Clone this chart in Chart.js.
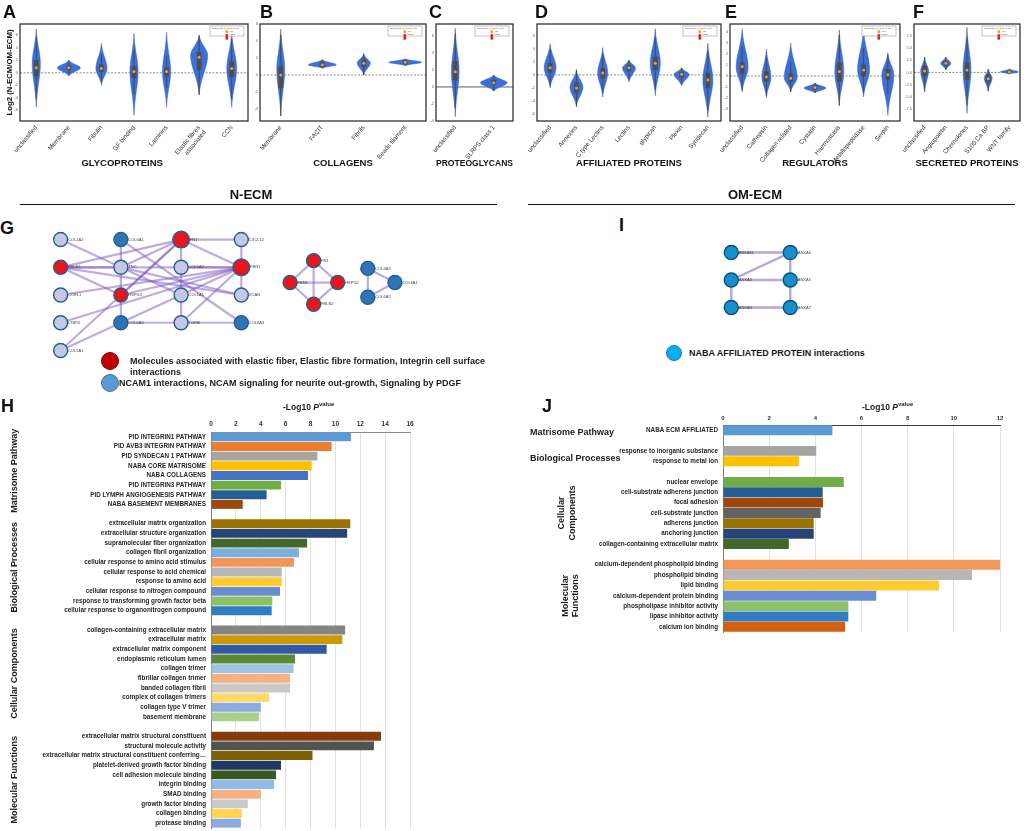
<!DOCTYPE html>
<html>
<head>
<meta charset="utf-8">
<title>N-ECM / OM-ECM matrisome figure</title>
<script src="https://cdn.jsdelivr.net/npm/chart.js@4.4.1/dist/chart.umd.min.js"></script>
<style>
  body { margin: 0; background: #fff; }
  #fig { position: relative; width: 1024px; height: 831px; overflow: hidden; background: #fff;
         font-family: "Liberation Sans", Arial, sans-serif; color: #111; }
  #fig canvas { position: absolute; }
  .lbl { position: absolute; white-space: nowrap; line-height: 1; }
  .letter { font-size: 18px; font-weight: bold; }
  .sect { font-size: 13px; font-weight: bold; transform: translateX(-50%); }
  .rule { position: absolute; height: 1.5px; background: #111; }
  .dot { position: absolute; border-radius: 50%; box-sizing: border-box; }
  .leg { position: absolute; font-size: 9px; font-weight: bold; line-height: 11px; color: #1a1a1a; white-space: nowrap; }
  .axt { position: absolute; font-size: 8.5px; font-weight: bold; white-space: nowrap; line-height: 1; color: #222; }
  .axt sup { font-size: 6px; vertical-align: 4px; line-height: 0; }
</style>
</head>
<body>
<div id="fig">
  <canvas id="glyco" width="252" height="176" style="left:0;top:0"></canvas>
  <canvas id="coll" width="184" height="176" style="left:246px;top:0"></canvas>
  <canvas id="proteo" width="93" height="176" style="left:424px;top:0"></canvas>
  <canvas id="affil" width="201" height="176" style="left:524px;top:0"></canvas>
  <canvas id="regul" width="187" height="176" style="left:717px;top:0"></canvas>
  <canvas id="secr" width="126" height="176" style="left:898px;top:0"></canvas>
  <canvas id="netG" width="400" height="155" style="left:30px;top:215px"></canvas>
  <canvas id="netI" width="140" height="100" style="left:700px;top:230px"></canvas>
  <canvas id="termsH" width="420" height="436" style="left:0;top:395px"></canvas>
  <canvas id="termsJ" width="504" height="240" style="left:520px;top:395px"></canvas>

  <div class="lbl letter" style="left:3px;top:2.7px">A</div>
  <div class="lbl letter" style="left:260px;top:2.7px">B</div>
  <div class="lbl letter" style="left:429px;top:2.7px">C</div>
  <div class="lbl letter" style="left:535px;top:2.7px">D</div>
  <div class="lbl letter" style="left:725px;top:2.7px">E</div>
  <div class="lbl letter" style="left:913px;top:2.7px">F</div>
  <div class="lbl letter" style="left:0;top:218.7px">G</div>
  <div class="lbl letter" style="left:1px;top:397.2px">H</div>
  <div class="lbl letter" style="left:619px;top:216.2px">I</div>
  <div class="lbl letter" style="left:542px;top:396.7px">J</div>

  <div class="lbl sect" style="left:251px;top:187.6px">N-ECM</div>
  <div class="lbl sect" style="left:755px;top:187.6px">OM-ECM</div>
  <div class="rule" style="left:20px;top:203.5px;width:477px"></div>
  <div class="rule" style="left:528px;top:203.5px;width:487px"></div>

  <div class="dot" style="left:101px;top:352px;width:18px;height:18px;background:#c00000;border:1px solid #8b0000"></div>
  <div class="leg" style="left:130px;top:355.5px">Molecules associated with elastic fiber, Elastic fibre formation, Integrin cell surface<br>interactions</div>
  <div class="dot" style="left:101px;top:374px;width:18px;height:18px;background:#5b9bd5;border:1px solid #41719c"></div>
  <div class="leg" style="left:119px;top:377.5px">NCAM1 interactions, NCAM signaling for neurite out-growth, Signaling by PDGF</div>

  <div class="dot" style="left:666px;top:345px;width:16px;height:16px;background:#00b0f0;border:1px solid #2f6f9f"></div>
  <div class="leg" style="left:689px;top:347.5px">NABA AFFILIATED PROTEIN interactions</div>

  <div class="axt" style="left:283px;top:402.8px">-Log10 <i>P</i><sup>value</sup></div>
  <div class="axt" style="left:862px;top:403px">-Log10 <i>P</i><sup>value</sup></div>
</div>

<script>
Chart.defaults.font.family = '"Liberation Sans", Arial, Helvetica, sans-serif';
Chart.defaults.color = '#333';

// ---- A-F: violin summaries, one row per class:
// [min, q1, median, q3, max, density peak, peak width (share of slot)]
const glycoCats = ['unclassified', 'Membrane', 'Fibulin', 'GF binding', 'Laminins', ['Elastic fibres', 'associated'], 'CCN'];
const glycoStats = [
  [-5.5, -0.5, 0.8, 2.0, 7.0, 1.5, 0.25],
  [-0.5, 0.5, 0.8, 1.1, 2.0, 0.8, 0.70],
  [-2.0, 0.2, 0.7, 1.3, 4.7, 0.7, 0.34],
  [-6.8, -0.8, 0.2, 1.0, 6.3, 0.2, 0.25],
  [-5.5, -0.5, 0.2, 0.8, 6.5, 0.2, 0.25],
  [-3.5, 0.5, 2.5, 3.3, 6.0, 2.8, 0.52],
  [-5.5, -0.6, 0.7, 1.8, 6.5, 0.7, 0.30]
];

const collCats = ['Membrane', 'FACIT', 'Fibrils', 'Beads filament'];
const collStats = [
  [-4.8, -1.5, 0.0, 1.0, 5.4, 0.6, 0.19],
  [0.8, 1.0, 1.2, 1.5, 1.8, 1.2, 0.67],
  [0.0, 1.0, 1.4, 1.8, 2.5, 1.4, 0.31],
  [1.1, 1.3, 1.5, 1.7, 1.9, 1.5, 0.79]
];

const proteoCats = ['unclassified', 'SLRPS class 1'];
const proteoStats = [
  [-3.5, 0.8, 1.8, 3.0, 6.9, 1.8, 0.20],
  [-0.5, 0.3, 0.5, 0.8, 1.4, 0.5, 0.69]
];

const affilCats = ['unclassified', 'Annexins', 'C type Lectins', 'Lectins', 'glypican', 'Plexin', 'Syndecan'];
const affilStats = [
  [-2.0, 0.4, 1.1, 1.8, 4.8, 1.1, 0.45],
  [-4.9, -2.8, -2.0, -1.2, 0.8, -1.9, 0.49],
  [-3.4, -0.5, 0.3, 1.0, 4.2, 0.3, 0.38],
  [-1.1, 0.6, 1.1, 1.5, 2.3, 1.1, 0.49],
  [-3.2, 0.8, 1.8, 2.8, 7.1, 1.8, 0.38],
  [-1.7, -0.3, 0.1, 0.4, 1.1, 0.1, 0.57],
  [-6.5, -2.0, -0.8, 0.3, 4.9, -0.8, 0.38]
];

const regulCats = ['unclassified', 'Cathepsin', 'Collagen related', 'Cystatin', 'Haemostasis', 'Metallopeptidase', 'Serpin'];
const regulStats = [
  [-1.45, 0.2, 0.85, 1.2, 4.3, 0.8, 0.49],
  [-2.0, -0.5, -0.1, 0.4, 2.45, -0.1, 0.37],
  [-1.45, -0.5, -0.2, 0.2, 3.0, -0.15, 0.53],
  [-1.55, -1.2, -1.05, -0.9, -0.65, -1.1, 0.90],
  [-2.7, -0.5, 0.4, 1.2, 4.2, 0.35, 0.37],
  [-1.9, 0.0, 0.55, 1.0, 4.35, 0.55, 0.49],
  [-3.6, -0.3, 0.1, 0.6, 2.1, 0.1, 0.49]
];

const secrCats = ['unclassified', 'Angiopoietin', 'Chemokines', 'S100 Ca BP', 'WNT family'];
const secrStats = [
  [-4.1, -0.8, 0.3, 1.3, 3.2, 0.3, 0.37],
  [0.5, 1.5, 1.9, 2.3, 3.2, 1.9, 0.47],
  [-8.5, -1.5, 0.5, 2.0, 9.4, 0.5, 0.37],
  [-3.9, -2.0, -1.3, -0.5, 0.7, -1.2, 0.37],
  [-0.35, -0.1, 0.1, 0.3, 0.7, 0.1, 0.84]
];

// ---- G / I: interaction networks (layout grid: column, row)
const gNodeNames = ['COL1A2', 'COL6A1', 'FN1', 'CXCL12', 'FBLN2', 'TNC', 'COL5A2', 'FBN1',
  'COEL1', 'HSPG2', 'COL1A1', 'VCAN', 'LTBP4', 'COL6A2', 'TGFBI', 'COL6A3', 'COL5A1',
  'FN1', 'FBN1', 'HSPG2', 'FBLN2', 'COL6A3', 'COL6A1', 'COL6A2'];
const gNodeCol = [0, 1, 2, 3, 0, 1, 2, 3, 0, 1, 2, 3, 0, 1, 2, 3, 0, 4.2, 3.81, 4.6, 4.2, 5.1, 5.55, 5.1];
const gNodeRow = [0, 0, 0, 0, 1, 1, 1, 1, 2, 2, 2, 2, 3, 3, 3, 3, 4, 0.76, 1.55, 1.55, 2.33, 1.04, 1.55, 2.08];
const gNodeGroup = ['l', 'b', 'R', 'l', 'r', 'l', 'l', 'R', 'l', 'r', 'l', 'l', 'l', 'b', 'l', 'b', 'l',
  'r', 'r', 'r', 'r', 'b', 'b', 'b'];
const gEdges = [[0, 5], [4, 2], [4, 5], [4, 9], [4, 7], [4, 11], [1, 5], [1, 15], [2, 5], [2, 9],
  [2, 3], [2, 6], [2, 7], [2, 16], [5, 9], [5, 11], [5, 10], [9, 7], [9, 13], [8, 7], [12, 7],
  [16, 7], [6, 10], [10, 14], [13, 14], [14, 15], [14, 7], [3, 7], [7, 11], [6, 7],
  [17, 18], [17, 19], [17, 20], [18, 19], [18, 20], [19, 20], [21, 22], [21, 23], [22, 23]];

const iNodeNames = ['ANXA11', 'ANXA6', 'ANXA2', 'ANXA5', 'ANXA4', 'ANXA7'];
const iNodeCol = [0, 1, 0, 1, 0, 1];
const iNodeRow = [0, 0, 1, 1, 2, 2];
const iNodeGroup = ['n', 'n', 'n', 'n', 'n', 'n'];
const iEdges = [[0, 1], [1, 2], [1, 3], [2, 3], [2, 4], [3, 5], [4, 5]];

// ---- H: N-ECM enrichment, -log10 P
const hPathwayTerms = ['PID INTEGRIN1 PATHWAY', 'PID AVB3 INTEGRIN PATHWAY', 'PID SYNDECAN 1 PATHWAY', 'NABA CORE MATRISOME',
  'NABA COLLAGENS', 'PID INTEGRIN3 PATHWAY', 'PID LYMPH ANGIOGENESIS PATHWAY', 'NABA BASEMENT MEMBRANES'];
const hPathwayValues = [11.25, 9.7, 8.55, 8.1, 7.8, 5.63, 4.47, 2.55];
const hProcessTerms = ['extracellular matrix organization', 'extracellular structure organization', 'supramolecular fiber organization',
  'collagen fibril organization', 'cellular response to amino acid stimulus', 'cellular response to acid chemical',
  'response to amino acid', 'cellular response to nitrogen compound', 'response to transforming growth factor beta',
  'cellular response to organonitrogen compound'];
const hProcessValues = [11.2, 10.95, 7.73, 7.07, 6.67, 5.68, 5.68, 5.55, 4.93, 4.88];
const hComponentTerms = ['collagen-containing extracellular matrix', 'extracellular matrix', 'extracellular matrix component',
  'endoplasmic reticulum lumen', 'collagen trimer', 'fibrillar collagen trimer', 'banded collagen fibril',
  'complex of collagen trimers', 'collagen type V trimer', 'basement membrane'];
const hComponentValues = [10.78, 10.56, 9.3, 6.76, 6.63, 6.36, 6.36, 4.67, 4.0, 3.86];
const hFunctionTerms = ['extracellular matrix structural constituent', 'structural molecule activity',
  'extracellular matrix structural constituent conferring…', 'platelet-derived growth factor binding',
  'cell adhesion molecule binding', 'integrin binding', 'SMAD binding', 'growth factor binding', 'collagen binding', 'protease binding'];
const hFunctionValues = [13.67, 13.1, 8.16, 5.63, 5.23, 5.07, 4.0, 2.96, 2.48, 2.4];

// ---- J: OM-ECM enrichment, -log10 P
const jPathwayTerms = ['NABA ECM AFFILIATED'];
const jPathwayValues = [4.74];
const jProcessTerms = ['response to inorganic substance', 'response to metal ion'];
const jProcessValues = [4.04, 3.29];
const jComponentTerms = ['nuclear envelope', 'cell-substrate adherens junction', 'focal adhesion', 'cell-substrate junction',
  'adherens junction', 'anchoring junction', 'collagen-containing extracellular matrix'];
const jComponentValues = [5.23, 4.32, 4.33, 4.23, 3.93, 3.93, 2.85];
const jFunctionTerms = ['calcium-dependent phospholipid binding', 'phospholipid binding', 'lipid binding',
  'calcium-dependent protein binding', 'phospholipase inhibitor activity', 'lipase inhibitor activity', 'calcium ion binding'];
const jFunctionValues = [12.0, 10.79, 9.36, 6.64, 5.43, 5.43, 5.29];

// bar colours (Excel palette, as in the figure)
const hPathwayColors = ['#5b9bd5', '#ed7d31', '#a5a5a5', '#ffc000', '#4472c4', '#70ad47', '#255e91', '#9e480e'];
const hProcessColors = ['#997300', '#264478', '#43682b', '#7cafdd', '#f1975a', '#b7b7b7', '#ffcd33', '#698ed0', '#8cc168', '#327dc2'];
const hComponentColors = ['#848484', '#cc9a00', '#335aa1', '#5a8a39', '#9dc3e6', '#f4b183', '#c9c9c9', '#ffd966', '#8faadc', '#a9d18e'];
const hFunctionColors = ['#843c0c', '#525252', '#7f6000', '#203864', '#385723', '#8fbbe6', '#f4b183', '#c9c9c9', '#ffd54f', '#8faadc'];
const jPathwayColors = ['#5b9bd5'];
const jProcessColors = ['#a5a5a5', '#ffc000'];
const jComponentColors = ['#70ad47', '#255e91', '#9e480e', '#636363', '#997300', '#264478', '#43682b'];
const jFunctionColors = ['#f1975a', '#b7b7b7', '#ffcd33', '#698ed0', '#8cc168', '#327dc2', '#d26012'];


// kernel-like width profile, 1 at the peak, 0 at both ends
function shape(v, lo, peak, hi) {
  const span = v < peak ? peak - lo : hi - peak;
  if (span <= 0) return 0;
  const d = Math.abs(v - peak) / span;
  const a = 2.6;
  return Math.max(0, (Math.exp(-a * d * d) - Math.exp(-a)) / (1 - Math.exp(-a)));
}

function violinLayer(stats, dashedZero) {
  return {
    id: 'violinLayer',
    beforeDatasetsDraw(chart) {
      const {ctx, chartArea: a, scales: {x, y}} = chart;
      ctx.save();
      const y0 = y.getPixelForValue(0);
      ctx.strokeStyle = dashedZero ? '#8a8a8a' : '#333';
      ctx.lineWidth = dashedZero ? 1 : 0.8;
      ctx.setLineDash(dashedZero ? [2, 1.5] : []);
      ctx.beginPath(); ctx.moveTo(a.left, y0); ctx.lineTo(a.right, y0); ctx.stroke();
      ctx.setLineDash([]);

      const slot = x.width / stats.length;
      stats.forEach((s, i) => {
        const [lo, q1, , q3, hi, peak, rel] = s;
        const cx = x.getPixelForValue(i);
        const half = rel * slot / 2;
        const n = 60;
        const side = [];
        for (let k = 0; k <= n; k++) {
          const v = lo + (hi - lo) * k / n;
          side.push([half * shape(v, lo, peak, hi), y.getPixelForValue(v)]);
        }
        ctx.beginPath();
        side.forEach(([w, py], k) => (k ? ctx.lineTo(cx - w, py) : ctx.moveTo(cx - w, py)));
        for (let k = n; k >= 0; k--) ctx.lineTo(cx + side[k][0], side[k][1]);
        ctx.closePath();
        ctx.fillStyle = '#3b6fdb';
        ctx.fill();
        ctx.strokeStyle = '#2d5cc2';
        ctx.lineWidth = 0.5;
        ctx.stroke();

        // whisker (1.5 IQR, clipped to range)
        const iqr = q3 - q1;
        ctx.strokeStyle = '#4a4a4a';
        ctx.lineWidth = 1;
        ctx.beginPath();
        ctx.moveTo(cx, y.getPixelForValue(Math.max(lo, q1 - 1.5 * iqr)));
        ctx.lineTo(cx, y.getPixelForValue(Math.min(hi, q3 + 1.5 * iqr)));
        ctx.stroke();
      });
      ctx.restore();
    },
    afterDraw(chart) {
      const {ctx, chartArea: a} = chart;
      ctx.save();
      ctx.strokeStyle = '#333';
      ctx.lineWidth = 1.3;
      ctx.strokeRect(a.left, a.top, a.width, a.height);

      // little significance legend box
      const w = 34, h = 10, lx = a.right - w - 4, ly = a.top + 2;
      ctx.fillStyle = '#fff';
      ctx.fillRect(lx, ly, w, h);
      ctx.strokeStyle = '#9a9a9a';
      ctx.lineWidth = 0.6;
      ctx.strokeRect(lx, ly, w, h);
      ctx.fillStyle = '#555';
      ctx.font = '2.4px "Liberation Sans", Arial, sans-serif';
      ctx.textBaseline = 'middle';
      ctx.fillText('Significant (p-value<0.05)', lx + 2, ly + 2.2);
      ctx.fillText('Yes', lx + w / 2 + 2.5, ly + 5.5);
      ctx.fillText('False', lx + w / 2 + 2.5, ly + 8);
      ctx.fillStyle = '#f39c12';
      ctx.fillRect(lx + w / 2 - 1.5, ly + 4.3, 2.6, 2.6);
      ctx.fillStyle = '#e8141c';
      ctx.fillRect(lx + w / 2 - 1.5, ly + 8.2, 2.6, 2.6);
      ctx.fillRect(lx + w / 2 - 1.5, ly + 11, 2.6, 2.6);
      ctx.restore();
    }
  };
}

function violinChart(id, cats, stats, lim, opt) {
  const step = lim.step;
  new Chart(document.getElementById(id), {
    type: 'bar',
    data: {
      labels: cats,
      datasets: [
        {
          type: 'bar',
          data: stats.map(s => [s[1], s[3]]),
          backgroundColor: '#4d4d4d',
          barThickness: 4,
          order: 1
        },
        {
          type: 'line',
          data: stats.map(s => s[2]),
          showLine: false,
          pointRadius: 1.5,
          pointBackgroundColor: '#f39c33',
          pointBorderWidth: 0,
          order: 0
        }
      ]
    },
    options: {
      responsive: false,
      animation: false,
      events: [],
      layout: {padding: {top: 24, right: 3, left: 0, bottom: 0}},
      plugins: {legend: {display: false}, tooltip: {enabled: false}},
      scales: {
        x: {
          offset: true,
          grid: {display: false, drawTicks: false},
          border: {display: false},
          ticks: {autoSkip: false, minRotation: 50, maxRotation: 50, font: {size: 6.3}, color: '#333', padding: 3},
          title: {display: true, text: opt.title, color: '#111',
                  font: {size: 9.5, weight: 'bold'}, padding: {top: 0, bottom: 7.3}},
          afterFit: s => { s.height = 55; s.paddingLeft = 0; s.paddingRight = 0; }
        },
        y: {
          min: lim.min,
          max: lim.max,
          grid: {display: false, drawTicks: false},
          border: {display: false},
          ticks: {stepSize: step, font: {size: 4}, color: '#666', padding: 2,
                  callback: v => (opt.decimals ? v.toFixed(opt.decimals) : v)},
          afterBuildTicks: s => {
            s.ticks = s.ticks.filter(t => Math.abs(t.value / step - Math.round(t.value / step)) < 1e-6 &&
              t.value >= (lim.lowTick ?? -Infinity));
          },
          title: opt.yTitle
            ? {display: true, text: opt.yTitle, color: '#111', font: {size: 7.8, weight: 'bold'}, padding: {top: 5, bottom: 0}}
            : {display: false},
          afterFit: s => { s.width = opt.yWidth; s.paddingTop = 0; s.paddingBottom = 0; }
        }
      }
    },
    plugins: [violinLayer(stats, opt.dashedZero)]
  });
}

// the glycoprotein caption sits a little left of its box centre in the figure
violinChart('glyco', glycoCats, glycoStats, {min: -7.7, max: 7.8, step: 2},
  {title: 'GLYCOPROTEINS' + '\u00a0'.repeat(9), yTitle: 'Log2 (N-ECM/OM-ECM)', yWidth: 20, dashedZero: true});
violinChart('coll', collCats, collStats, {min: -5.4, max: 6, step: 2},
  {title: 'COLLAGENS', yWidth: 14, dashedZero: true});
violinChart('proteo', proteoCats, proteoStats, {min: -4, max: 7.4, step: 2},
  {title: 'PROTEOGLYCANS', yWidth: 12, dashedZero: false});
violinChart('affil', affilCats, affilStats, {min: -7.1, max: 7.85, step: 2},
  {title: 'AFFILIATED PROTEINS', yWidth: 13, dashedZero: true});
violinChart('regul', regulCats, regulStats, {min: -4.1, max: 4.73, step: 1},
  {title: 'REGULATORS', yWidth: 13, dashedZero: true});
violinChart('secr', secrCats, secrStats, {min: -10.1, max: 10.06, step: 2.5, lowTick: -7.5},
  {title: 'SECRETED PROTEINS', yWidth: 16, dashedZero: true, decimals: 1});


// ---- networks
function nodeLabels(names, radius) {
  return {
    id: 'nodeLabels',
    afterDatasetsDraw(chart) {
      const {ctx} = chart;
      const meta = chart.getDatasetMeta(0);
      ctx.save();
      ctx.fillStyle = '#444';
      ctx.font = '4px "Liberation Sans", Arial, sans-serif';
      ctx.textBaseline = 'middle';
      meta.data.forEach((pt, i) => ctx.fillText(names[i], pt.x + radius[i] + 0.5, pt.y));
      ctx.restore();
    }
  };
}

function networkChart(id, names, cols, rows, groups, edges, view, look) {
  const pts = names.map((_, i) => ({x: cols[i], y: rows[i]}));
  const radius = groups.map(g => (g === 'R' ? 8.3 : 7));
  const edgeSets = edges.map(([p, q]) => ({
    type: 'line',
    data: [pts[p], pts[q]],
    borderColor: look.edge,
    borderWidth: look.edgeWidth,
    pointRadius: 0,
    order: 2
  }));
  new Chart(document.getElementById(id), {
    type: 'scatter',
    data: {
      datasets: [{
        data: pts,
        pointRadius: radius,
        pointBackgroundColor: groups.map(g => look.fill[g]),
        pointBorderColor: look.border,
        pointBorderWidth: 1.4,
        order: 0
      }, ...edgeSets]
    },
    options: {
      responsive: false,
      animation: false,
      events: [],
      layout: {padding: 0},
      plugins: {legend: {display: false}, tooltip: {enabled: false}},
      scales: {
        x: {type: 'linear', display: false, min: view.x0, max: view.x1},
        y: {type: 'linear', display: false, reverse: true, min: view.y0, max: view.y1}
      }
    },
    plugins: [nodeLabels(names, radius)]
  });
}

networkChart('netG', gNodeNames, gNodeCol, gNodeRow, gNodeGroup, gEdges,
  {x0: -0.3476, x1: 5.9716, y0: -0.5363, y1: 4.3533},
  {fill: {l: '#c5c7e3', b: '#2f75b5', r: '#e8151b', R: '#e8151b'}, border: '#1d5f96',
   edge: 'rgba(128,88,190,0.5)', edgeWidth: 2.2});
networkChart('netI', iNodeNames, iNodeCol, iNodeRow, iNodeGroup, iEdges,
  {x0: -0.388, x1: 1.7015, y0: -0.515, y1: 2.515},
  {fill: {n: '#168fcb'}, border: '#0b4f80', edge: '#b9a6d8', edgeWidth: 2.4});


// ---- enrichment bar charts
function buildGroups(groups) {
  const labels = [], values = [], colors = [], spans = [];
  groups.forEach((g, gi) => {
    if (gi > 0) { labels.push(''); values.push(null); colors.push('rgba(0,0,0,0)'); }
    const start = labels.length;
    g.terms.forEach((t, i) => { labels.push(t); values.push(g.values[i]); colors.push(g.colors[i]); });
    spans.push({start, end: labels.length - 1});
  });
  return {labels, values, colors, spans};
}

function groupTitles(spans, styles) {
  return {
    id: 'groupTitles',
    afterDraw(chart) {
      const {ctx} = chart;
      const y = chart.scales.y;
      ctx.save();
      ctx.fillStyle = '#1a1a1a';
      ctx.font = 'bold 9px "Liberation Sans", Arial, sans-serif';
      ctx.textBaseline = 'middle';
      spans.forEach((sp, i) => {
        const st = styles[i];
        const cy = (y.getPixelForValue(sp.start) + y.getPixelForValue(sp.end)) / 2 + (st.dy || 0);
        ctx.save();
        ctx.translate(st.x, cy);
        if (st.rotate) ctx.rotate(-Math.PI / 2);
        ctx.textAlign = st.rotate ? 'center' : 'left';
        st.lines.forEach((ln, k) => ctx.fillText(ln, 0, (k - (st.lines.length - 1) / 2) * 10.5));
        ctx.restore();
      });
      ctx.restore();
    }
  };
}

function termChart(id, built, max, cfg) {
  new Chart(document.getElementById(id), {
    type: 'bar',
    data: {
      labels: built.labels,
      datasets: [{
        data: built.values,
        backgroundColor: built.colors,
        borderWidth: 0,
        categoryPercentage: 1,
        barPercentage: cfg.barPct
      }]
    },
    options: {
      indexAxis: 'y',
      responsive: false,
      animation: false,
      events: [],
      layout: {padding: {top: 0, left: 0, right: cfg.right, bottom: 3}},
      plugins: {legend: {display: false}, tooltip: {enabled: false}},
      scales: {
        x: {
          position: 'top',
          min: 0,
          max: max,
          ticks: {stepSize: 2, font: {size: cfg.tickSize, weight: 'bold'}, color: '#333', padding: cfg.tickPad},
          grid: {color: '#d9d9d9', lineWidth: 0.8, drawTicks: false},
          border: {color: cfg.topColor, width: 1},
          afterFit: s => { s.height = cfg.top; s.paddingLeft = 0; s.paddingRight = 0; }
        },
        y: {
          ticks: {autoSkip: false, font: {size: 6.3, weight: 'bold'}, color: '#262626', padding: 5},
          grid: {display: false, drawTicks: false},
          border: {color: '#7f7f7f', width: 1},
          afterFit: s => { s.width = cfg.left; s.paddingTop = 0; s.paddingBottom = 0; }
        }
      }
    },
    plugins: [groupTitles(built.spans, cfg.titles)]
  });
}

const hBuilt = buildGroups([
  {terms: hPathwayTerms, values: hPathwayValues, colors: hPathwayColors},
  {terms: hProcessTerms, values: hProcessValues, colors: hProcessColors},
  {terms: hComponentTerms, values: hComponentValues, colors: hComponentColors},
  {terms: hFunctionTerms, values: hFunctionValues, colors: hFunctionColors}
]);
termChart('termsH', hBuilt, 16, {
  left: 211, top: 37, right: 10, barPct: 0.92, tickSize: 6.5, tickPad: 4, topColor: '#8c8c8c',
  titles: [
    {lines: ['Matrisome Pathway'], x: 15, rotate: true},
    {lines: ['Biological Processes'], x: 15, rotate: true},
    {lines: ['Cellular Components'], x: 15, rotate: true},
    {lines: ['Molecular Functions'], x: 15, rotate: true}
  ]
});

const jBuilt = buildGroups([
  {terms: jPathwayTerms, values: jPathwayValues, colors: jPathwayColors},
  {terms: jProcessTerms, values: jProcessValues, colors: jProcessColors},
  {terms: jComponentTerms, values: jComponentValues, colors: jComponentColors},
  {terms: jFunctionTerms, values: jFunctionValues, colors: jFunctionColors}
]);
termChart('termsJ', jBuilt, 12, {
  left: 203, top: 30, right: 24, barPct: 0.96, tickSize: 6, tickPad: 3.5, topColor: '#404040',
  titles: [
    {lines: ['Matrisome Pathway'], x: 10, dy: 2},
    {lines: ['Biological Processes'], x: 10, dy: 2},
    {lines: ['Cellular', 'Components'], x: 47, rotate: true},
    {lines: ['Molecular', 'Functions'], x: 50.5, rotate: true}
  ]
});
</script>
</body>
</html>
